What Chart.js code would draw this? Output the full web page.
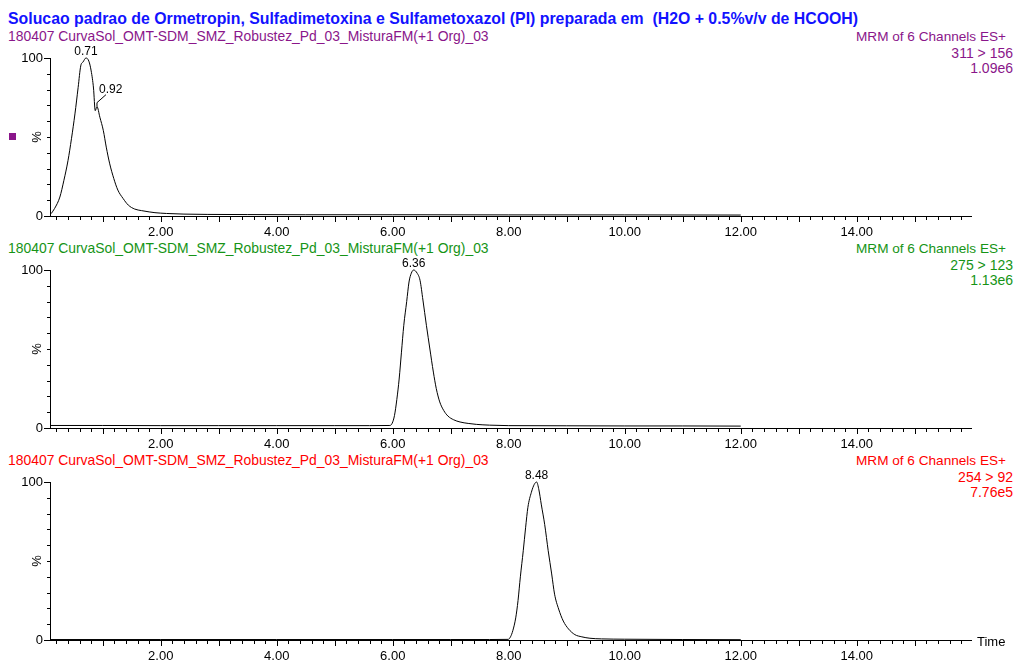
<!DOCTYPE html>
<html>
<head>
<meta charset="utf-8">
<script src="https://cdn.jsdelivr.net/npm/chart.js@4.4.0/dist/chart.umd.min.js"></script>
<style>
  body { margin:0; background:#fff; width:1015px; height:663px; position:relative; overflow:hidden;
         font-family:"Liberation Sans", Arial, sans-serif; }
  .t { position:absolute; white-space:nowrap; line-height:1; }
  .r { text-align:right; }
  canvas { position:absolute; left:0; }
</style>
</head>
<body>
<div class="t" style="left:8px;top:10.5px;font-size:15.85px;font-weight:bold;color:#1212ff">Solucao padrao de Ormetropin, Sulfadimetoxina e Sulfametoxazol (PI) preparada em&nbsp; (H2O + 0.5%v/v de HCOOH)</div>
<div id="texts"></div>
<canvas id="c0" width="1015" height="212"></canvas>
<canvas id="c1" width="1015" height="212"></canvas>
<canvas id="c2" width="1015" height="212"></canvas>
<div class="t" style="left:977px;top:635px;font-size:13px;color:#000">Time</div>
<div style="position:absolute;left:9px;top:133px;width:7px;height:7px;background:#8a168a"></div>
<script>
// sample / channel info
var sampleName = '180407 CurvaSol_OMT-SDM_SMZ_Robustez_Pd_03_MisturaFM(+1 Org)_03';
var channelText = 'MRM of 6 Channels ES+';
var transitions = ['311 > 156', '275 > 123', '254 > 92'];
var intensities = ['1.09e6', '1.13e6', '7.76e5'];
var panelColors = ['#8a168a', '#169416', '#ff0000'];

// axis ticks
var xTickValues = [2, 4, 6, 8, 10, 12, 14];
var xTickLabels = ['2.00', '4.00', '6.00', '8.00', '10.00', '12.00', '14.00'];
var yTickValues = [0, 100];
var yTickLabels = ['0', '100'];

// trace 1 : 311 > 156
var times1 = [0.11, 0.17, 0.26, 0.33, 0.40, 0.46, 0.52, 0.575, 0.62, 0.66, 0.71, 0.76, 0.80, 0.84, 0.87, 0.90, 0.95, 1.01, 1.06, 1.12, 1.19, 1.26, 1.35, 1.44, 1.55, 1.67, 1.80, 1.90, 2.10, 2.40, 2.80, 3.50, 4.50, 6.00, 8.00, 10.00, 12.00];
var values1 = [1.5, 4.8, 12, 22.6, 35, 48.9, 64.6, 81.3, 95, 97.5, 100, 98, 91.8, 81, 66.7, 69.2, 62.5, 54, 43.6, 33, 23.7, 16.4, 11.1, 6.9, 4.4, 3.4, 2.6, 2.1, 1.6, 1.2, 1.0, 0.9, 0.8, 0.8, 0.7, 0.7, 0.6];
// trace 2 : 275 > 123
var times2 = [0.09, 1.0, 2.0, 3.0, 4.0, 5.0, 5.6, 5.95, 5.99, 6.03, 6.07, 6.11, 6.15, 6.19, 6.24, 6.28, 6.32, 6.36, 6.42, 6.47, 6.52, 6.58, 6.64, 6.70, 6.75, 6.81, 6.88, 6.95, 7.05, 7.16, 7.30, 7.44, 7.67, 8.0, 9.0, 10.0, 11.0, 12.0];
var values2 = [1.6, 1.6, 1.5, 1.5, 1.5, 1.5, 1.5, 1.6, 3, 8, 18, 31, 48, 65, 80, 92.4, 98, 100, 98, 93.5, 81, 65, 50, 35.4, 25, 16.5, 11, 7.6, 5.2, 3.8, 2.9, 2.3, 1.8, 1.5, 1.4, 1.3, 1.3, 1.2];
// trace 3 : 254 > 92
var times3 = [0.09, 2.0, 4.0, 6.0, 7.0, 7.67, 7.99, 8.03, 8.07, 8.12, 8.16, 8.20, 8.25, 8.29, 8.33, 8.39, 8.44, 8.48, 8.52, 8.56, 8.62, 8.68, 8.74, 8.79, 8.86, 8.94, 9.03, 9.14, 9.26, 9.40, 9.60, 10.0, 11.0, 12.0];
var values3 = [0.3, 0.3, 0.3, 0.3, 0.3, 0.3, 0.4, 2, 5.9, 14, 25, 40, 56.5, 71, 84, 93.5, 98.5, 100, 95, 86, 73, 56.5, 41.8, 29, 19.6, 12, 7, 3.4, 2, 1.1, 0.7, 0.5, 0.3, 0.2];

// peak labels (time, intensity where the label sits, text)
var peakTimes = [[0.71, 0.90], [6.36], [8.48]];
var peakValues = [[100, 69.2], [100], [100]];
var peakTexts = [['0.71', '0.92'], ['6.36'], ['8.48']];

var allTimes = [times1, times2, times3];
var allValues = [values1, values2, values3];

var FONT = '"Liberation Sans", Arial, sans-serif';

// header texts of every panel
var html = '';
for (var i = 0; i < 3; i++) {
  var off = 212 * i;
  html += '<div class="t" style="left:8px;top:' + (30 + off) + 'px;font-size:13.9px;color:' + panelColors[i] + '">' + sampleName + '</div>';
  html += '<div class="t r" style="right:9px;top:' + (30 + off) + 'px;font-size:13.6px;color:' + panelColors[i] + '">' + channelText + '</div>';
  html += '<div class="t r" style="right:2px;top:' + (45.5 + off) + 'px;font-size:14px;color:' + panelColors[i] + '">' + transitions[i] + '</div>';
  html += '<div class="t r" style="right:2px;top:' + (61 + off) + 'px;font-size:14px;color:' + panelColors[i] + '">' + intensities[i] + '</div>';
}
document.getElementById('texts').innerHTML = html;

var decor = {
  id: 'decor',
  afterDatasetsDraw: function(chart, args, opts) {
    var ctx = chart.ctx, x = chart.scales.x, y = chart.scales.y, a = chart.chartArea;
    ctx.save();
    ctx.strokeStyle = '#000';
    ctx.lineWidth = 1;
    ctx.beginPath();
    // minor / major ticks on time axis
    for (var k = 1; k * 0.2 < x.max; k++) {
      var px = Math.round(x.getPixelForValue(k * 0.2)) + 0.5;
      var len = (k % 5 === 0) ? 6 : 4;
      ctx.moveTo(px, a.bottom);
      ctx.lineTo(px, a.bottom + len);
    }
    for (var v = 0; v <= 100; v += 10) {
      var py = Math.round(y.getPixelForValue(v)) + 0.5;
      var l = (v === 0 || v === 100) ? 6 : 3;
      ctx.moveTo(a.left - l, py);
      ctx.lineTo(a.left, py);
    }
    ctx.stroke();

    // % label
    ctx.fillStyle = '#000';
    ctx.font = '13px ' + FONT;
    ctx.save();
    ctx.translate(37.5, (a.top + a.bottom) / 2);
    ctx.rotate(-Math.PI / 2);
    ctx.textAlign = 'center';
    ctx.textBaseline = 'middle';
    ctx.fillText('%', 0, 0);
    ctx.restore();

    // peak labels
    var idx = opts.panel;
    ctx.font = '12px ' + FONT;
    ctx.textBaseline = 'alphabetic';
    for (var p = 0; p < peakTimes[idx].length; p++) {
      var qx = x.getPixelForValue(peakTimes[idx][p]);
      var qy = y.getPixelForValue(peakValues[idx][p]);
      if (p === 0) {
        ctx.textAlign = 'center';
        ctx.fillText(peakTexts[idx][p], qx, qy - 3);
      } else {
        ctx.beginPath();
        ctx.moveTo(qx, qy);
        ctx.lineTo(qx, qy - 4);
        ctx.lineTo(qx + 9, qy - 12);
        ctx.stroke();
        ctx.textAlign = 'left';
        ctx.fillText(peakTexts[idx][p], qx + 2, qy - 14);
      }
    }
    ctx.restore();
  }
};

function makeChart(i) {
  var el = document.getElementById('c' + i);
  el.style.top = (40 + 212 * i) + 'px';
  var pts = allTimes[i].map(function(t, k) { return { x: t, y: allValues[i][k] }; });
  return new Chart(el, {
    type: 'line',
    data: {
      datasets: [{
        data: pts,
        borderColor: '#000',
        borderWidth: 1,
        pointRadius: 0,
        fill: false,
        cubicInterpolationMode: 'monotone',
        clip: false
      }]
    },
    options: {
      responsive: false,
      animation: false,
      devicePixelRatio: 1,
      layout: { padding: { top: 18, right: 44, left: 0, bottom: 13 } },
      plugins: { legend: { display: false }, tooltip: { enabled: false }, decor: { panel: i } },
      scales: {
        x: {
          type: 'linear', min: 0.09, max: 15.97,
          grid: { display: false, drawTicks: false, tickLength: 0 },
          border: { display: true, color: '#000', width: 1 },
          afterBuildTicks: function(s) { s.ticks = xTickValues.map(function(v) { return { value: v }; }); },
          afterFit: function(s) { s.height = 23; },
          ticks: {
            autoSkip: false, maxRotation: 0, padding: 9, color: '#000',
            font: { family: FONT, size: 13 },
            callback: function(v, k) { return xTickLabels[k]; }
          }
        },
        y: {
          min: 0, max: 100,
          grid: { display: false, drawTicks: false, tickLength: 0 },
          border: { display: true, color: '#000', width: 1 },
          afterBuildTicks: function(s) { s.ticks = yTickValues.map(function(v) { return { value: v }; }); },
          afterFit: function(s) { s.width = 50; },
          ticks: {
            padding: 7, color: '#000',
            font: { family: FONT, size: 13 },
            callback: function(v, k) { return yTickLabels[k]; }
          }
        }
      }
    },
    plugins: [decor]
  });
}

for (var n = 0; n < 3; n++) makeChart(n);
</script>
</body>
</html>
